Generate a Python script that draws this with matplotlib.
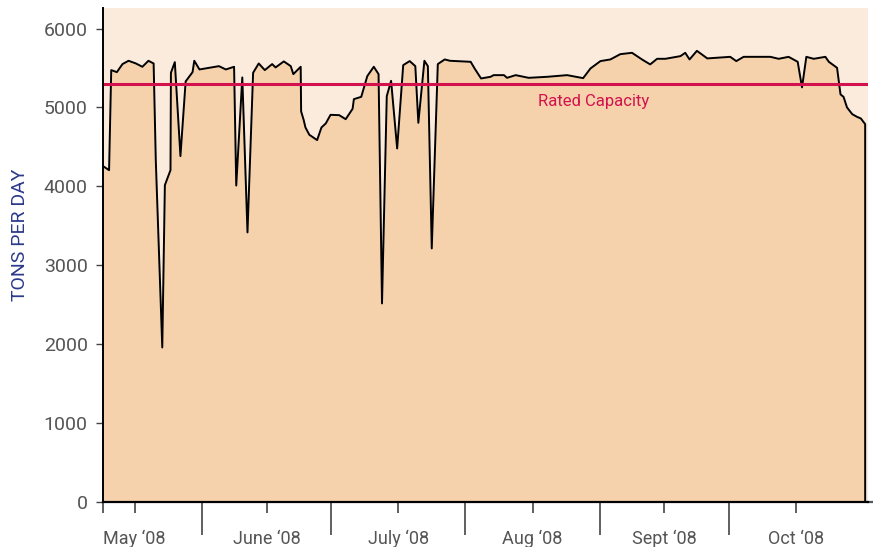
import matplotlib.pyplot as plt

# days since 1 May 2008, tons per day
days = [8.2, 9.6, 10.1, 11.4, 12.7, 14.1, 15.8, 17.3, 18.7, 19.9, 20.4, 21.9,
        22.5, 23.8, 23.9, 24.8, 26.1, 27.3, 28.9, 29.3, 30.5, 35.0, 36.6, 38.5,
        39.0, 40.4, 41.6, 42.9, 44.2, 45.6, 47.3, 48.1, 50.0, 51.6, 52.2, 53.9,
        54.0, 54.6, 55.0, 55.9, 57.7, 58.7, 59.7, 60.8, 62.8, 64.3, 65.9, 66.2,
        67.9, 69.3, 70.8, 71.9, 72.7, 73.8, 74.8, 76.2, 77.6, 79.1, 80.4, 81.1,
        82.5, 83.3, 84.2, 85.6, 87.2, 88.4, 93.2, 94.1, 95.6, 97.8, 98.5, 100.9,
        101.6, 103.6, 106.6, 110.9, 115.5, 119.2, 120.9, 123.2, 125.5, 127.8,
        130.5, 132.8, 134.7, 136.3, 138.2, 141.7, 142.8, 143.8, 145.5, 147.9,
        153.2, 154.6, 156.3, 162.5, 164.4, 166.7, 168.8, 169.8, 170.8, 172.5,
        175.2, 176.0, 177.9, 178.7, 179.4, 180.2, 181.4, 182.5, 183.4, 184.4, 184.4]
tons = [4256, 4205, 5473, 5447, 5549, 5591, 5557, 5515, 5591, 5557, 4332, 1958,
        4015, 4205, 5439, 5574, 4383, 5329, 5447, 5591, 5481, 5523, 5481, 5515,
        4010, 5380, 3416, 5439, 5557, 5473, 5549, 5507, 5583, 5523, 5422, 5515,
        4950, 4839, 4746, 4653, 4586, 4746, 4797, 4906, 4902, 4851, 4982, 5105,
        5134, 5397, 5515, 5422, 2516, 5143, 5337, 4480, 5536, 5587, 5523, 4805,
        5591, 5523, 3213, 5549, 5608, 5591, 5578, 5494, 5367, 5388, 5409, 5409,
        5375, 5409, 5375, 5388, 5409, 5371, 5494, 5587, 5608, 5675,
        5692, 5608, 5545, 5616, 5616, 5650, 5692, 5608, 5717, 5621,
        5641, 5587, 5641, 5641, 5616, 5641, 5578, 5254, 5641, 5616,
        5641, 5578, 5502, 5165, 5134, 5000, 4915, 4881, 4860, 4788, 0]

rated_capacity = 5300
month_starts = [31, 61, 92, 123, 153]
label_days = [15.5, 46, 76.5, 107.5, 138, 168.5]
month_labels = ["May \u201808", "June \u201808", "July \u201808", "Aug \u201808",
                "Sept \u201808", "Oct \u201808"]
y_ticks = [0, 1000, 2000, 3000, 4000, 5000, 6000]

plt.rcParams["font.family"] = ["Roboto", "DejaVu Sans"]

fig = plt.figure(figsize=(8.73, 5.47), dpi=100)
ax = fig.add_axes([0.118, 0.0823, 0.876, 0.9031])
ax.set_facecolor("#faebdd")

ax.fill_between(days, tons, 0, color="#f5d2ac", linewidth=0)
ax.plot(days, tons, color="black", linewidth=1.4)
ax.axhline(rated_capacity, color="#d3124d", linewidth=2.2)
ax.text(0.642, (rated_capacity - 230) / 6260, "Rated Capacity", transform=ax.transAxes,
        ha="center", va="center", color="#d3124d", fontsize=12)

ax.set_xlim(8.2, 185.0)
ax.set_ylim(0, 6260)

for s in ["top", "right"]:
    ax.spines[s].set_visible(False)
ax.spines["left"].set_linewidth(1.4)
ax.spines["bottom"].set_linewidth(1.6)
# bottom axis line runs on to the figure edge
ax.plot([1.0, 1.01], [0, 0], transform=ax.transAxes, color="#555555",
        linewidth=1.6, clip_on=False)

ax.set_yticks(y_ticks)
ax.tick_params(axis="y", length=5, width=1, color="#444444", labelcolor="#555555",
               labelsize=14, pad=6)

ax.set_xticks(month_starts)
ax.set_xticklabels([])
ax.tick_params(axis="x", which="major", length=24, width=1.2, color="#444444")
ax.set_xticks(label_days + [8.2], minor=True)
ax.set_xticklabels(month_labels + [""], minor=True)
ax.tick_params(axis="x", which="minor", length=8, width=1.2, color="#444444",
               labelcolor="#555555", labelsize=13, pad=12)

ax.set_ylabel("TONS PER DAY", color="#2b3a8a", fontsize=14)
ax.yaxis.set_label_coords(-0.097, 0.54)

fig.savefig("out.png", dpi=100)
